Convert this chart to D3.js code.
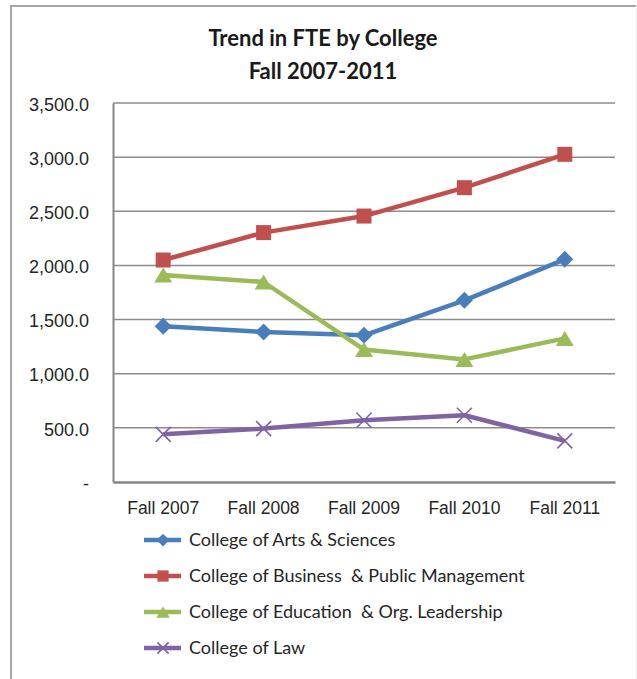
<!DOCTYPE html>
<html lang="en">

<head>
    <meta charset="UTF-8">
    <title>Trend in FTE by College</title>
    <style>
        body {
            margin: 0;
            background: #ffffff;
            font-family: Lato, 'Open Sans', sans-serif;
        }

        .axisY text,
        .legend text {
            fill: #262626;
            font-size: 18px;
            white-space: pre;
        }

        .axisX text {
            fill: #262626;
            font-size: 17.5px;
        }

        .title text {
            fill: #1a1a1a;
            font-weight: bold;
            font-size: 22px;
        }
    </style>
</head>

<body>
    <div id='chart'></div>
</body>

</html>
<script src="https://cdnjs.cloudflare.com/ajax/libs/d3/7.8.5/d3.min.js"></script>
<script>
    // data
    const years = ['Fall 2007', 'Fall 2008', 'Fall 2009', 'Fall 2010', 'Fall 2011'];
    const colleges = ['College of Arts & Sciences', 'College of Business  & Public Management',
        'College of Education  & Org. Leadership', 'College of Law'];
    const artsSciences = [1438, 1385, 1355, 1678, 2056];
    const businessPublic = [2050, 2303, 2456, 2718, 3026];
    const educationOrg = [1912, 1847, 1223, 1132, 1326];
    const law = [440, 493, 570, 616, 380];
    const yTicks = [0, 500, 1000, 1500, 2000, 2500, 3000, 3500];

    const seriesValues = [artsSciences, businessPublic, educationOrg, law];
    const colors = ['#4a7ebb', '#c0504d', '#9bbb59', '#8064a2'];
    const symbols = ['diamond', 'square', 'triangle', 'x'];
    const markerSize = { diamond: 17, square: 15, triangle: 15, x: 15 };

    const W = 637, H = 679;
    const plot = { left: 113, top: 103, width: 502, height: 379 };

    const svg = d3.select('#chart').append('svg')
        .attr('width', W)
        .attr('height', H);

    // outer chart frame
    svg.append('path')
        .attr('d', 'M11,' + H + 'V6H636')
        .attr('fill', 'none')
        .attr('stroke', '#a6a6a6')
        .attr('stroke-width', 2);
    svg.append('line')
        .attr('x1', 636).attr('x2', 636).attr('y1', 6).attr('y2', H)
        .attr('stroke', '#ececec').attr('stroke-width', 1);

    // title
    const title = svg.append('g').attr('class', 'title');
    title.append('text').attr('x', 323).attr('y', 46).attr('text-anchor', 'middle')
        .text('Trend in FTE by College');
    title.append('text').attr('x', 323).attr('y', 79).attr('text-anchor', 'middle')
        .text('Fall 2007-2011');

    const xScale = d3.scaleBand().domain(years).range([0, plot.width]);
    const yScale = d3.scaleLinear().domain([0, 3500]).range([plot.height, 0]);

    const g = svg.append('g')
        .attr('transform', 'translate(' + plot.left + ',' + plot.top + ')');

    // gridlines
    g.append('g')
        .selectAll('line')
        .data(yTicks.slice(1))
        .enter().append('line')
        .attr('x1', 0)
        .attr('x2', plot.width)
        .attr('y1', function (d) { return yScale(d); })
        .attr('y2', function (d) { return yScale(d); })
        .attr('stroke', '#8c8c8c')
        .attr('stroke-width', 1.5);

    // Y axis
    const axisY = g.append('g')
        .attr('class', 'axisY')
        .call(d3.axisLeft(yScale).tickValues(yTicks).tickSize(0).tickPadding(24)
            .tickFormat(function (d) { return d === 0 ? '-' : d3.format(',.1f')(d); }));
    axisY.select('.domain').attr('stroke', '#868686').attr('stroke-width', 2);
    axisY.selectAll('text').attr('font-family', null).attr('font-size', null).attr('dy', '0.4em');

    // X axis
    const axisX = g.append('g')
        .attr('class', 'axisX')
        .attr('transform', 'translate(0,' + plot.height + ')')
        .call(d3.axisBottom(xScale).tickSize(0).tickPadding(20));
    axisX.select('.domain').attr('stroke', '#868686').attr('stroke-width', 2.5);
    axisX.selectAll('text').attr('font-family', null).attr('font-size', null);

    function markerPath(sym, size) {
        const s = size / 2;
        if (sym === 'diamond') return 'M0,' + (-s) + 'L' + s + ',0L0,' + s + 'L' + (-s) + ',0Z';
        if (sym === 'square') return 'M' + (-s) + ',' + (-s) + 'H' + s + 'V' + s + 'H' + (-s) + 'Z';
        if (sym === 'triangle') return 'M0,' + (-s) + 'L' + (s * 1.2) + ',' + s + 'H' + (-s * 1.2) + 'Z';
        return 'M' + (-s) + ',' + (-s) + 'L' + s + ',' + s + 'M' + s + ',' + (-s) + 'L' + (-s) + ',' + s;
    }

    function drawMarker(sel, i, scale) {
        const sym = symbols[i];
        const p = sel.append('path').attr('d', markerPath(sym, markerSize[sym] * scale));
        if (sym === 'x') {
            p.attr('fill', 'none').attr('stroke', colors[i]).attr('stroke-width', 1.6);
        } else {
            p.attr('fill', colors[i]);
        }
    }

    const line = d3.line()
        .x(function (d, j) { return xScale(years[j]) + xScale.bandwidth() / 2; })
        .y(function (d) { return yScale(d); });

    seriesValues.forEach(function (vals, i) {
        const s = g.append('g');
        s.append('path')
            .attr('d', line(vals))
            .attr('fill', 'none')
            .attr('stroke', colors[i])
            .attr('stroke-width', 4.5)
            .attr('stroke-linejoin', 'round');
        s.selectAll('g')
            .data(vals)
            .enter().append('g')
            .attr('transform', function (d, j) {
                return 'translate(' + (xScale(years[j]) + xScale.bandwidth() / 2) + ',' + yScale(d) + ')';
            })
            .each(function () { drawMarker(d3.select(this), i, 1); });
    });

    // legend
    const legend = svg.append('g').attr('class', 'legend')
        .attr('transform', 'translate(144,540)');
    colleges.forEach(function (name, i) {
        const row = legend.append('g').attr('transform', 'translate(0,' + (i * 36) + ')');
        row.append('line')
            .attr('x1', 0).attr('x2', 37)
            .attr('stroke', colors[i]).attr('stroke-width', 4.5);
        drawMarker(row.append('g').attr('transform', 'translate(19,0)'), i, 0.75);
        row.append('text')
            .attr('x', 45)
            .attr('dy', '0.36em')
            .text(name);
    });
</script>
